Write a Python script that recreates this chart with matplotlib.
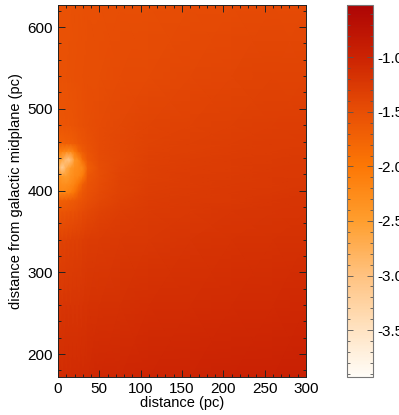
import numpy as np
import matplotlib
matplotlib.use("Agg")
import matplotlib.pyplot as plt
from matplotlib.colors import LinearSegmentedColormap
from matplotlib.ticker import MultipleLocator, FormatStrFormatter

plt.rcParams['font.family'] = ['Liberation Sans', 'DejaVu Sans']

# grid coordinates (pc)
x_pc = [0, 5, 10, 15, 20, 25, 30, 36, 50, 75, 110, 160, 210, 260, 300]
y_pc = [172, 260, 340, 375, 388, 398, 408, 418, 428, 438, 448, 458, 480, 540, 627]

# log values (rows: y ascending, cols: x ascending)
values = [
    [-1.10, -1.10, -1.09, -1.09, -1.08, -1.08, -1.07, -1.07, -1.05, -1.04, -1.02, -1.00, -0.98, -0.96, -0.95],
    [-1.22, -1.22, -1.21, -1.21, -1.20, -1.20, -1.19, -1.18, -1.17, -1.15, -1.13, -1.11, -1.09, -1.07, -1.06],
    [-1.36, -1.36, -1.35, -1.34, -1.33, -1.32, -1.31, -1.29, -1.27, -1.25, -1.23, -1.20, -1.18, -1.16, -1.15],
    [-1.58, -1.58, -1.56, -1.54, -1.52, -1.49, -1.46, -1.42, -1.36, -1.31, -1.27, -1.24, -1.22, -1.20, -1.19],
    [-1.70, -1.70, -1.68, -1.65, -1.62, -1.58, -1.54, -1.48, -1.42, -1.34, -1.29, -1.26, -1.24, -1.22, -1.21],
    [-2.15, -2.20, -2.15, -2.10, -1.95, -1.72, -1.60, -1.52, -1.45, -1.36, -1.30, -1.27, -1.25, -1.23, -1.22],
    [-2.25, -2.30, -2.30, -2.25, -2.15, -1.95, -1.68, -1.55, -1.47, -1.37, -1.31, -1.28, -1.26, -1.24, -1.23],
    [-2.30, -2.45, -2.50, -2.35, -2.25, -2.20, -2.05, -1.60, -1.48, -1.38, -1.32, -1.29, -1.27, -1.25, -1.24],
    [-2.60, -3.20, -2.70, -2.45, -2.30, -2.25, -2.20, -1.68, -1.48, -1.39, -1.33, -1.30, -1.28, -1.26, -1.25],
    [-2.50, -2.60, -3.00, -3.00, -2.40, -2.25, -1.85, -1.60, -1.47, -1.40, -1.34, -1.31, -1.29, -1.27, -1.26],
    [-2.10, -2.15, -2.20, -2.25, -2.05, -1.78, -1.65, -1.55, -1.46, -1.40, -1.35, -1.32, -1.30, -1.28, -1.27],
    [-1.72, -1.72, -1.70, -1.68, -1.66, -1.61, -1.57, -1.52, -1.46, -1.41, -1.36, -1.33, -1.31, -1.29, -1.28],
    [-1.58, -1.58, -1.57, -1.56, -1.55, -1.53, -1.51, -1.49, -1.46, -1.42, -1.38, -1.35, -1.33, -1.31, -1.30],
    [-1.52, -1.52, -1.52, -1.51, -1.51, -1.50, -1.50, -1.49, -1.48, -1.46, -1.44, -1.41, -1.39, -1.37, -1.36],
    [-1.52, -1.52, -1.52, -1.52, -1.51, -1.51, -1.51, -1.50, -1.50, -1.49, -1.48, -1.47, -1.46, -1.45, -1.44],
]

vmin, vmax = -3.93, -0.52
cbar_ticks = [-1.0, -1.5, -2.0, -2.5, -3.0, -3.5]

# colormap anchors (value, colour)
anchors = [
    (-3.93, (1.00, 0.99, 0.97)),
    (-3.5, (1.00, 0.89, 0.76)),
    (-3.0, (1.00, 0.76, 0.50)),
    (-2.5, (1.00, 0.62, 0.18)),
    (-2.0, (0.99, 0.47, 0.02)),
    (-1.5, (0.91, 0.31, 0.02)),
    (-1.0, (0.80, 0.14, 0.01)),
    (-0.52, (0.68, 0.02, 0.02)),
]
cmap = LinearSegmentedColormap.from_list(
    "hot_red", [((v - vmin) / (vmax - vmin), c) for v, c in anchors])

fig = plt.figure(figsize=(3.99, 4.15), dpi=100)
ax = fig.add_axes([58 / 399, 1 - 377 / 415, 248 / 399, 372 / 415])
X, Y = np.meshgrid(x_pc, y_pc)
mesh = ax.pcolormesh(X, Y, np.array(values), shading='gouraud', cmap=cmap,
                     vmin=vmin, vmax=vmax, rasterized=True)
ax.set_xlim(0, 300)
ax.set_ylim(172, 627)
ax.xaxis.set_major_locator(MultipleLocator(50))
ax.xaxis.set_minor_locator(MultipleLocator(10))
ax.yaxis.set_major_locator(MultipleLocator(100))
ax.yaxis.set_minor_locator(MultipleLocator(20))
ax.tick_params(which='both', direction='in', top=True, right=True,
               labelsize=11, color='#222222', width=0.7)
ax.tick_params(which='major', length=5)
ax.tick_params(which='minor', length=2.5)
ax.set_xlabel('distance (pc)', fontsize=10.5, labelpad=0)
ax.set_ylabel('distance from galactic midplane (pc)', fontsize=10.5, labelpad=3)
for s in ax.spines.values():
    s.set_linewidth(0.7)
    s.set_color('#222222')

cax = fig.add_axes([347 / 399, 1 - 377 / 415, 26 / 399, 372 / 415])
cb = fig.colorbar(mesh, cax=cax, ticks=cbar_ticks)
cb.outline.set_edgecolor('#777777')
cb.outline.set_linewidth(0.8)
cax.yaxis.set_major_formatter(FormatStrFormatter('%.1f'))
cax.yaxis.set_minor_locator(MultipleLocator(0.1))
cax.tick_params(which='both', direction='in', left=True, right=True,
                labelsize=11, color='#555555', width=0.6)
cax.tick_params(which='major', length=4)
cax.tick_params(which='minor', length=2)

fig.savefig('out.png', dpi=100)
